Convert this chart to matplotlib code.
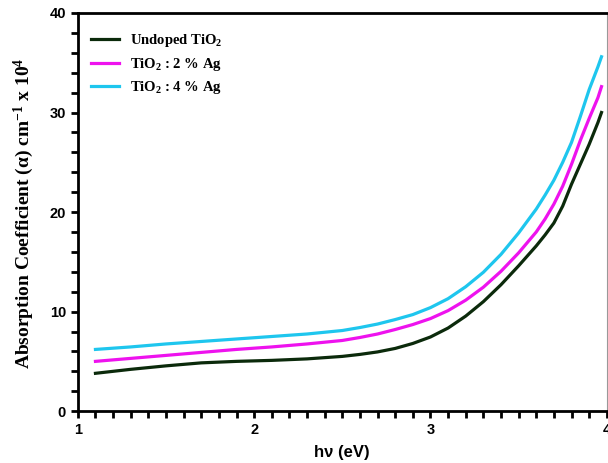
import numpy as np
import matplotlib
matplotlib.use("Agg")
import matplotlib.pyplot as plt
from matplotlib.ticker import MultipleLocator

# photon energy (eV)
energy = [1.1, 1.3, 1.5, 1.7, 1.9, 2.1, 2.3, 2.5, 2.6, 2.7, 2.8, 2.9, 3.0,
          3.1, 3.2, 3.3, 3.4, 3.5, 3.6, 3.65, 3.7, 3.75, 3.8, 3.85, 3.9,
          3.95, 3.97]

# absorption coefficient (x 10^4 cm^-1)
undoped = [3.8, 4.2, 4.55, 4.85, 5.0, 5.1, 5.25, 5.5, 5.7, 5.95, 6.3, 6.8,
           7.45, 8.35, 9.55, 11.0, 12.7, 14.6, 16.6, 17.7, 18.9, 20.6, 22.8,
           24.8, 26.8, 29.0, 30.0]
ag2 = [5.0, 5.3, 5.6, 5.9, 6.2, 6.45, 6.75, 7.1, 7.4, 7.75, 8.2, 8.7, 9.3,
       10.1, 11.15, 12.45, 14.05, 15.9, 18.0, 19.3, 20.8, 22.6, 24.8, 27.2,
       29.4, 31.5, 32.6]
ag4 = [6.2, 6.45, 6.75, 7.0, 7.25, 7.5, 7.75, 8.1, 8.4, 8.75, 9.2, 9.7,
       10.4, 11.3, 12.5, 13.95, 15.75, 17.9, 20.3, 21.7, 23.2, 25.0, 27.0,
       29.6, 32.3, 34.6, 35.6]

labels = ["Undoped TiO$_2$", "TiO$_2$ : 2 % Ag", "TiO$_2$ : 4 % Ag"]
colors = ["#0b2a0b", "#ee12ee", "#1ec6ee"]

plt.rcParams["mathtext.fontset"] = "custom"
plt.rcParams["mathtext.rm"] = "Liberation Serif:bold"
plt.rcParams["mathtext.it"] = "Liberation Serif:bold"
plt.rcParams["mathtext.bf"] = "Liberation Serif:bold"

fig = plt.figure(figsize=(6.08, 4.63), dpi=100)
ax = fig.add_axes([0.128, 0.112, 0.87, 0.86])

for ys, lab, c in zip([undoped, ag2, ag4], labels, colors):
    ax.plot(energy, ys, color=c, lw=2.3, label=lab,
            solid_joinstyle="round")

ax.set_xlim(1, 4)
ax.set_ylim(0, 40)
ax.xaxis.set_major_locator(MultipleLocator(1))
ax.xaxis.set_minor_locator(MultipleLocator(0.1))
ax.yaxis.set_major_locator(MultipleLocator(10))
ax.yaxis.set_minor_locator(MultipleLocator(2))

for s in ["left", "bottom", "top"]:
    ax.spines[s].set_linewidth(2)
ax.spines["right"].set_linewidth(0.8)
ax.spines["right"].set_color("#999999")

ax.tick_params(which="both", direction="out", width=2, length=5,
               labelsize=10.5)
ax.tick_params(axis="x", which="both", top=False)
for t in ax.get_xticklabels() + ax.get_yticklabels():
    t.set_fontweight("bold")
    t.set_family("Liberation Sans")

ax.set_xlabel("h\u03bd (eV)", fontsize=12, fontweight="bold",
              family="Liberation Sans", labelpad=6)
fig.text(0.039, 0.539, "Absorption Coefficient ($\\alpha$) cm$^{-1}$ x 10$^4$",
         rotation=90, ha="center", va="center", fontsize=14,
         family="Liberation Serif", fontweight="bold")

leg = ax.legend(loc="upper left", frameon=False, handlelength=1.9,
                handletextpad=0.8, labelspacing=0.45,
                prop={"family": "Liberation Serif", "weight": "bold",
                      "size": 10.5},
                bbox_to_anchor=(0.0, 0.985))

fig.savefig("out.png", dpi=100)
